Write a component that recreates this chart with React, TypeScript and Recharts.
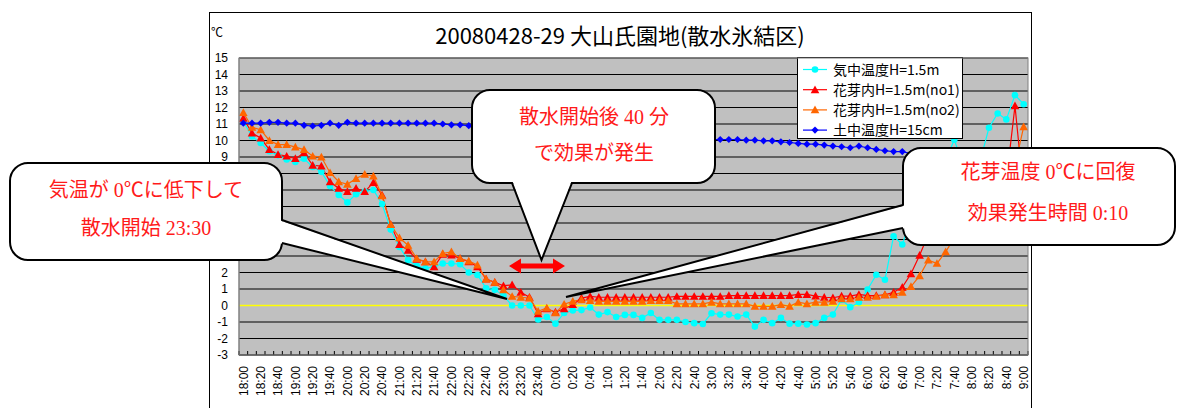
import React from 'react';
import { LineChart, Line, XAxis, YAxis, CartesianGrid, ReferenceLine, Legend } from 'recharts';

// ---------- data ----------
const times = [
  '18:00', '18:10', '18:20', '18:30', '18:40', '18:50',
  '19:00', '19:10', '19:20', '19:30', '19:40', '19:50',
  '20:00', '20:10', '20:20', '20:30', '20:40', '20:50',
  '21:00', '21:10', '21:20', '21:30', '21:40', '21:50',
  '22:00', '22:10', '22:20', '22:30', '22:40', '22:50',
  '23:00', '23:10', '23:20', '23:30', '23:40', '23:50',
  '0:00', '0:10', '0:20', '0:30', '0:40', '0:50',
  '1:00', '1:10', '1:20', '1:30', '1:40', '1:50',
  '2:00', '2:10', '2:20', '2:30', '2:40', '2:50',
  '3:00', '3:10', '3:20', '3:30', '3:40', '3:50',
  '4:00', '4:10', '4:20', '4:30', '4:40', '4:50',
  '5:00', '5:10', '5:20', '5:30', '5:40', '5:50',
  '6:00', '6:10', '6:20', '6:30', '6:40', '6:50',
  '7:00', '7:10', '7:20', '7:30', '7:40', '7:50',
  '8:00', '8:10', '8:20', '8:30', '8:40', '8:50',
  '9:00',
];

// 気中温度H=1.5m
const airTemp = [
  11.15, 10.25, 9.85, 9.35, 9.1, 8.85, 8.7, 8.9, 8.4, 8.1,
  7.25, 6.7, 6.25, 6.75, 6.9, 7.0, 6.15, 4.6, 3.55, 2.75,
  2.4, 2.25, 2.35, 2.55, 2.55, 2.5, 2.0, 1.85, 1.05, 0.95,
  0.6, 0.0, 0.0, 0.0, -0.85, -0.7, -1.1, -0.45, -0.3, -0.28,
  -0.12, -0.55, -0.4, -0.7, -0.57, -0.57, -0.75, -0.45, -0.87, -0.87,
  -0.87, -1.0, -1.07, -1.12, -0.47, -0.55, -0.55, -0.67, -0.55, -1.28,
  -0.87, -1.07, -0.75, -1.1, -1.1, -1.15, -1.07, -0.75, -0.55, 0.35,
  -0.1, 0.2, 0.97, 1.86, 1.56, 4.2, 3.7, 5.2, 6.3, 7.2,
  8.0, 8.8, 10.05, 8.5, 8.3, 8.8, 10.77, 11.64, 11.28, 12.75,
  12.2,
];

// 花芽内H=1.5m(no1)
const bud1 = [
  11.35, 10.45, 10.15, 9.45, 9.15, 9.05, 8.9, 9.25, 8.5, 8.45,
  7.5, 7.1, 6.9, 7.1, 6.9, 7.45, 6.7, 4.9, 3.7, 3.35,
  2.8, 2.65, 2.35, 3.1, 3.05, 2.85, 2.65, 2.35, 1.6, 1.4,
  1.2, 1.25, 0.8, 0.5, -0.5, -0.2, -0.4, -0.2, 0.05, 0.45,
  0.55, 0.5, 0.5, 0.5, 0.5, 0.5, 0.5, 0.5, 0.5, 0.5,
  0.55, 0.55, 0.55, 0.55, 0.55, 0.55, 0.6, 0.6, 0.6, 0.6,
  0.6, 0.6, 0.6, 0.6, 0.67, 0.67, 0.57, 0.5, 0.47, 0.57,
  0.57, 0.67, 0.6, 0.6, 0.65, 0.8, 1.1, 1.92, 3.04, 4.3,
  5.4, 6.3, 7.0, 7.6, 8.0, 8.3, 8.5, 8.2, 7.6, 12.1,
  6.8,
];

// 花芽内H=1.5m(no2)
const bud2 = [
  11.7, 10.8, 10.65, 10.0, 9.75, 9.75, 9.6, 9.45, 9.05, 9.0,
  8.05, 7.5, 7.35, 7.7, 7.95, 7.85, 6.65, 4.9, 4.1, 3.65,
  2.85, 2.65, 2.65, 3.15, 3.25, 2.85, 2.7, 2.45, 1.6, 1.4,
  0.95, 0.55, 0.5, 0.45, -0.35, -0.15, -0.45, 0.08, 0.25, 0.35,
  0.3, 0.25, 0.25, 0.25, 0.25, 0.25, 0.25, 0.3, 0.3, 0.3,
  0.1, 0.1, 0.1, 0.1, 0.2, 0.1, 0.1, 0.1, 0.1, -0.05,
  -0.05, -0.05, 0.05, -0.05, 0.2, 0.1, 0.2, 0.2, 0.25, 0.4,
  0.4, 0.5, 0.5, 0.55, 0.65, 0.65, 0.8, 1.15, 1.8, 2.75,
  2.55, 3.25, 4.1, 4.6, 5.3, 6.0, 6.8, 7.5, 8.0, 8.5,
  10.83,
];

// 土中温度H=15cm
const soilTemp = [
  11.05, 11.05, 11.05, 11.1, 11.1, 11.05, 11.05, 10.92, 10.88, 10.92,
  11.05, 10.92, 11.1, 11.05, 11.05, 11.05, 11.05, 11.05, 11.05, 11.05,
  11.05, 11.05, 11.05, 11.0, 10.95, 10.95, 10.9, 10.9, 10.85, 10.85,
  10.8, 10.8, 10.75, 10.75, 10.7, 10.7, 10.65, 10.6, 10.6, 10.55,
  10.5, 10.5, 10.45, 10.4, 10.4, 10.35, 10.3, 10.3, 10.25, 10.2,
  10.2, 10.15, 10.1, 10.1, 10.05, 10.06, 10.06, 10.06, 10.02, 10.02,
  9.98, 9.98, 9.92, 9.88, 9.82, 9.78, 9.78, 9.72, 9.66, 9.62,
  9.56, 9.66, 9.56, 9.46, 9.38, 9.33, 9.33, 9.21, 9.38, 9.25,
  9.2, 9.2, 9.2, 9.15, 9.15, 9.15, 9.1, 9.1, 9.1, 9.1,
  9.05,
];

const yTicks = [-3, -2, -1, 0, 1, 2, 3, 4, 5, 6, 7, 8, 9, 10, 11, 12, 13, 14, 15];
// tick labels that sit underneath the left callout box in the reference
const coveredYTicks = [3, 4, 5, 6, 7, 8];
const seriesNames = ['気中温度H=1.5m', '花芽内H=1.5m(no1)', '花芽内H=1.5m(no2)', '土中温度H=15cm'];
const seriesKeys = ['air', 'bud1', 'bud2', 'soil'];
const seriesColors = ['#00FFFF', '#FF0000', '#FF6600', '#0000FF'];
const seriesMarkers = ['circle', 'triangle', 'triangle', 'diamond'];

const titleText = '20080428-29 大山氏園地(散水氷結区)';
const unitText = '℃';

const data = times.map((t, i) => ({
  time: t,
  air: airTemp[i],
  bud1: bud1[i],
  bud2: bud2[i],
  soil: soilTemp[i],
}));

// ---------- layout ----------
const W = 1187;
const H = 408;
const PLOT_LEFT = 239;
const PLOT_RIGHT = 1028;
const PLOT_TOP = 58;
const PLOT_BOTTOM = 355;
const BAND = (PLOT_RIGHT - PLOT_LEFT) / times.length;
const LATIN = "'Liberation Sans', Arial, 'Noto Sans CJK JP', sans-serif";
const CJK = "'Noto Sans CJK JP', 'Liberation Sans', sans-serif";
const MINCHO = "'Liberation Serif', 'Noto Sans CJK JP', serif";

function markerShape(kind: string, color: string, cx: number, cy: number, key?: string) {
  if (kind === 'circle') {
    return <circle key={key} cx={cx} cy={cy} r={3.3} fill={color} />;
  }
  if (kind === 'triangle') {
    const s = 4.3;
    return (
      <path
        key={key}
        d={`M${cx},${cy - s} L${cx + s},${cy + s * 0.8} L${cx - s},${cy + s * 0.8} Z`}
        fill={color}
      />
    );
  }
  const s = 3.6;
  return (
    <path
      key={key}
      d={`M${cx},${cy - s} L${cx + s},${cy} L${cx},${cy + s} L${cx - s},${cy} Z`}
      fill={color}
    />
  );
}

const makeDot = (k: number) => (p: any) => {
  if (p.cx == null || p.cy == null) return <g key={`n${k}-${p.index}`} />;
  return markerShape(seriesMarkers[k], seriesColors[k], p.cx, p.cy, `d${k}-${p.index}`);
};

const XTick = (props: any) => {
  const { x, y, payload } = props;
  const i = times.indexOf(payload.value);
  return (
    <g>
      <line x1={x - BAND / 2} x2={x - BAND / 2} y1={y} y2={y - 4} stroke="#000" strokeWidth={1} />
      {i === times.length - 1 && (
        <line x1={x + BAND / 2} x2={x + BAND / 2} y1={y} y2={y - 4} stroke="#000" strokeWidth={1} />
      )}
      {i % 2 === 0 && (
        <text
          transform={`translate(${x},${y + 11}) rotate(-90)`}
          textAnchor="end"
          dy="0.36em"
          fontSize={12}
          fontFamily={LATIN}
          fill="#000"
        >
          {payload.value}
        </text>
      )}
    </g>
  );
};

const YTick = (props: any) => {
  const { x, y, payload } = props;
  if (coveredYTicks.indexOf(payload.value) >= 0) return <g />;
  return (
    <text x={x} y={y} dy="0.36em" textAnchor="end" fontSize={12} fontFamily={LATIN} fill="#000">
      {payload.value}
    </text>
  );
};

const LegendBox = () => (
  <div
    style={{
      width: 166,
      height: 82,
      background: '#fff',
      border: '1px solid #000',
      boxSizing: 'border-box',
    }}
  >
    <svg width={164} height={80} style={{ display: 'block' }}>
      {seriesNames.map((name, k) => {
        const cy = 11.5 + k * 20.2;
        return (
          <g key={name}>
            <line x1={5} x2={29} y1={cy} y2={cy} stroke={seriesColors[k]} strokeWidth={1.2} />
            {markerShape(seriesMarkers[k], seriesColors[k], 17, cy)}
            <text x={35} y={cy} dy="0.36em" fontSize={14} fontFamily={CJK} fill="#000">
              {name}
            </text>
          </g>
        );
      })}
    </svg>
  </div>
);

// callout helper: rounded box + wedge tail
function Callout(props: {
  x: number; y: number; w: number; h: number;
  base: [number, number][]; inner: [number, number][]; tip: [number, number];
  lines: { text: string; x: number; y: number }[];
}) {
  const { x, y, w, h, base, inner, tip, lines } = props;
  return (
    <g>
      <rect x={x} y={y} width={w} height={h} rx={18} ry={18} fill="#fff" stroke="#000" strokeWidth={2} />
      <polygon
        points={`${inner[0][0]},${inner[0][1]} ${tip[0]},${tip[1]} ${inner[1][0]},${inner[1][1]}`}
        fill="#fff"
      />
      <polyline
        points={`${base[0][0]},${base[0][1]} ${tip[0]},${tip[1]} ${base[1][0]},${base[1][1]}`}
        fill="none"
        stroke="#000"
        strokeWidth={2}
        strokeLinejoin="miter"
      />
      {lines.map((l) => (
        <text key={l.text} x={l.x} y={l.y} textAnchor="middle" fontSize={20} fontFamily={MINCHO} fill="#FF1A1A">
          {l.text}
        </text>
      ))}
    </g>
  );
}

export default function App() {
  return (
    <div style={{ position: 'absolute', left: 0, top: 0, width: W, height: H, background: '#fff' }}>
      <LineChart
        width={W}
        height={H}
        data={data}
        margin={{ top: PLOT_TOP, right: W - PLOT_RIGHT, bottom: 0, left: PLOT_LEFT - 30 }}
      >
        <CartesianGrid
          vertical={false}
          horizontal
          stroke="#000"
          strokeWidth={1}
          fill="#C0C0C0"
          fillOpacity={1}
        />
        <XAxis
          dataKey="time"
          interval={0}
          height={H - PLOT_BOTTOM}
          tickSize={0}
          tickMargin={0}
          tickLine={false}
          axisLine={{ stroke: '#404040' }}
          padding={{ left: BAND / 2, right: BAND / 2 }}
          tick={<XTick />}
        />
        <YAxis
          width={30}
          domain={[-3, 15]}
          ticks={yTicks}
          interval={0}
          tickSize={0}
          tickMargin={11}
          tickLine={false}
          axisLine={{ stroke: '#808080' }}
          allowDataOverflow
          tick={<YTick />}
        />
        <ReferenceLine y={0} stroke="#FFFF00" strokeWidth={1.6} />
        {seriesKeys.map((k, idx) => (
          <Line
            key={k}
            type="linear"
            dataKey={k}
            name={seriesNames[idx]}
            stroke={seriesColors[idx]}
            strokeWidth={1.2}
            dot={makeDot(idx)}
            activeDot={false}
            isAnimationActive={false}
          />
        ))}
        <Legend
          layout="vertical"
          align="center"
          verticalAlign="middle"
          content={() => <LegendBox />}
          wrapperStyle={{ position: 'absolute', left: 797, top: 57, width: 166, height: 82 }}
        />
      </LineChart>

      <svg
        width={W}
        height={H}
        style={{ position: 'absolute', left: 0, top: 0, pointerEvents: 'none' }}
      >
        {/* chart frame */}
        <rect x={209.5} y={12.5} width={822} height={420} fill="none" stroke="#000" strokeWidth={1} />
        {/* plot border */}
        <rect
          x={PLOT_LEFT}
          y={PLOT_TOP}
          width={PLOT_RIGHT - PLOT_LEFT}
          height={PLOT_BOTTOM - PLOT_TOP}
          fill="none"
          stroke="#808080"
          strokeWidth={1}
        />
        <text x={620} y={44} textAnchor="middle" fontSize={22} fontFamily={CJK} fill="#000">
          {titleText}
        </text>
        <text x={211} y={37} fontSize={12} fontFamily={LATIN} fill="#000">
          {unitText}
        </text>

        <Callout
          x={10} y={163} w={272} h={97}
          base={[[282, 220], [282, 243]]}
          inner={[[279, 220], [279, 243]]}
          tip={[507, 299]}
          lines={[
            { text: '気温が 0℃に低下して', x: 146, y: 197 },
            { text: '散水開始 23:30', x: 146, y: 235 },
          ]}
        />
        <Callout
          x={472} y={90} w={243} h={93}
          base={[[512, 183], [572, 183]]}
          inner={[[512, 180], [572, 180]]}
          tip={[541.5, 260]}
          lines={[
            { text: '散水開始後 40 分', x: 594, y: 124 },
            { text: 'で効果が発生', x: 594, y: 160 },
          ]}
        />
        <Callout
          x={903} y={148} w={272} h={97}
          base={[[903, 205], [903, 228]]}
          inner={[[906, 205], [906, 228]]}
          tip={[566, 297]}
          lines={[
            { text: '花芽温度 0℃に回復', x: 1048, y: 179 },
            { text: '効果発生時間 0:10', x: 1048, y: 220 },
          ]}
        />
        {/* red double arrow */}
        <path
          d="M509,266 L521,258.5 L521,263.5 L553,263.5 L553,258.5 L565,266 L553,273.5 L553,268.5 L521,268.5 L521,273.5 Z"
          fill="#FF0000"
        />
      </svg>
    </div>
  );
}
